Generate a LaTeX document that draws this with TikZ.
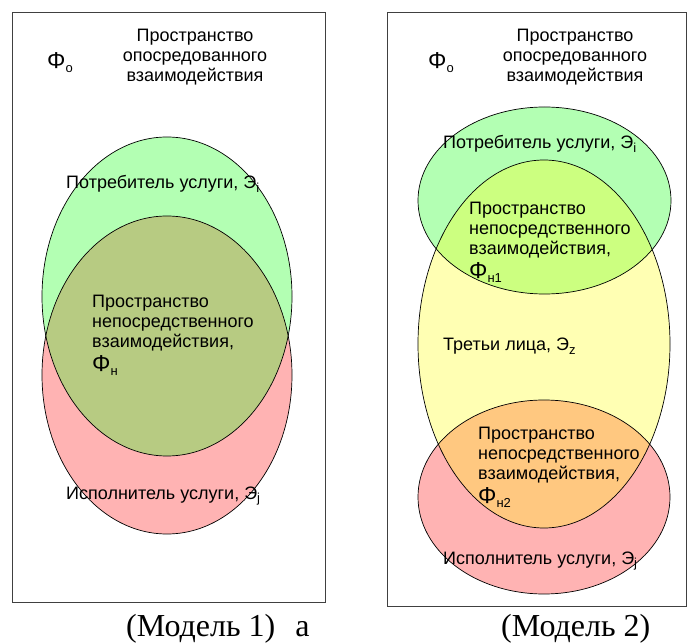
\documentclass[tikz,border=0pt]{standalone}
\usepackage{fontspec}
\setmainfont{Liberation Serif}
\newfontfamily\arialf{Liberation Sans}
\definecolor{cgreen}{HTML}{B3FFB3}
\definecolor{cred}{HTML}{FFB3B3}
\definecolor{cyellow}{HTML}{FFFFB3}
\definecolor{colive}{HTML}{B7CB82}
\definecolor{clime}{HTML}{CCFF80}
\definecolor{corange}{HTML}{FFC880}
\newcommand{\sbs}[1]{\raisebox{-0.4ex}{\fontsize{13}{13}\selectfont #1}}
\newcommand{\bphi}{{\fontsize{23}{20}\selectfont Φ}}
\begin{document}
\begin{tikzpicture}[x=1pt,y=-1pt,
  lbl/.style={font=\arialf\fontsize{18}{20}\selectfont, inner sep=0pt, anchor=base west},
  blk/.style={font=\arialf\fontsize{18}{20}\selectfont, inner sep=0pt, align=left, anchor=north west},
  hdr/.style={font=\arialf\fontsize{18}{20}\selectfont, inner sep=0pt, align=center, anchor=north},
  capt/.style={font=\fontsize{32}{36}\selectfont, inner sep=0pt, anchor=base west},
  frame/.style={draw=black!75, line width=0.8pt},
  outl/.style={draw=black, line width=0.7pt}]
\useasboundingbox (0,0) rectangle (691,644);

% frames
\draw[frame] (12,12) rectangle (325,602);
\draw[frame] (387,12) rectangle (686,606);

% ---------- Model 1 ----------
\fill[cgreen] (167,296.5) ellipse [x radius=125pt, y radius=159.5pt];
\fill[cred] (167,375) ellipse [x radius=125pt, y radius=159pt];
\begin{scope}
  \clip (167,296.5) ellipse [x radius=125pt, y radius=159.5pt];
  \fill[colive] (167,375) ellipse [x radius=125pt, y radius=159pt];
\end{scope}
\draw[outl] (167,296.5) ellipse [x radius=125pt, y radius=159.5pt];
\draw[outl] (167,375) ellipse [x radius=125pt, y radius=159pt];

\node[lbl] (phio1) at (47,69) {\bphi\sbs{o}};
\node[hdr] (hdr1) at (195,29) {Пространство\\опосредованного\\взаимодействия};
\node[lbl] (cons1) at (66,189) {Потребитель услуги, Э\sbs{i}};
\node[blk] (dir1) at (92,295) {Пространство\\непосредственного\\взаимодействия,\\[4pt]\bphi\sbs{н}};
\node[lbl] (exec1) at (66,499) {Исполнитель услуги, Э\sbs{j}};
\node[capt] (cap1) at (126,636) {(Модель 1)\hspace{20pt}а};

% ---------- Model 2 ----------
\fill[cyellow] (544,344) ellipse [x radius=126pt, y radius=184pt];
\fill[cgreen] (544.5,200.5) ellipse [x radius=126.5pt, y radius=93.5pt];
\fill[cred] (544,497) ellipse [x radius=126pt, y radius=97pt];
\begin{scope}
  \clip (544,344) ellipse [x radius=126pt, y radius=184pt];
  \fill[clime] (544.5,200.5) ellipse [x radius=126.5pt, y radius=93.5pt];
  \fill[corange] (544,497) ellipse [x radius=126pt, y radius=97pt];
\end{scope}
\draw[outl] (544.5,200.5) ellipse [x radius=126.5pt, y radius=93.5pt];
\draw[outl] (544,344) ellipse [x radius=126pt, y radius=184pt];
\draw[outl] (544,497) ellipse [x radius=126pt, y radius=97pt];

\node[lbl] (phio2) at (428,69) {\bphi\sbs{o}};
\node[hdr] (hdr2) at (575,29) {Пространство\\опосредованного\\взаимодействия};
\node[lbl] (cons2) at (443,149) {Потребитель услуги, Э\sbs{i}};
\node[blk] (dir21) at (469,202) {Пространство\\непосредственного\\взаимодействия,\\[4pt]\bphi\sbs{н1}};
\node[lbl] (third) at (443,351) {Третьи лица, Э\sbs{z}};
\node[blk] (dir22) at (478,427) {Пространство\\непосредственного\\взаимодействия,\\[4pt]\bphi\sbs{н2}};
\node[lbl] (exec2) at (443,564) {Исполнитель услуги, Э\sbs{j}};
\node[capt] (cap2) at (501,636) {(Модель 2)};
\end{tikzpicture}
\end{document}
